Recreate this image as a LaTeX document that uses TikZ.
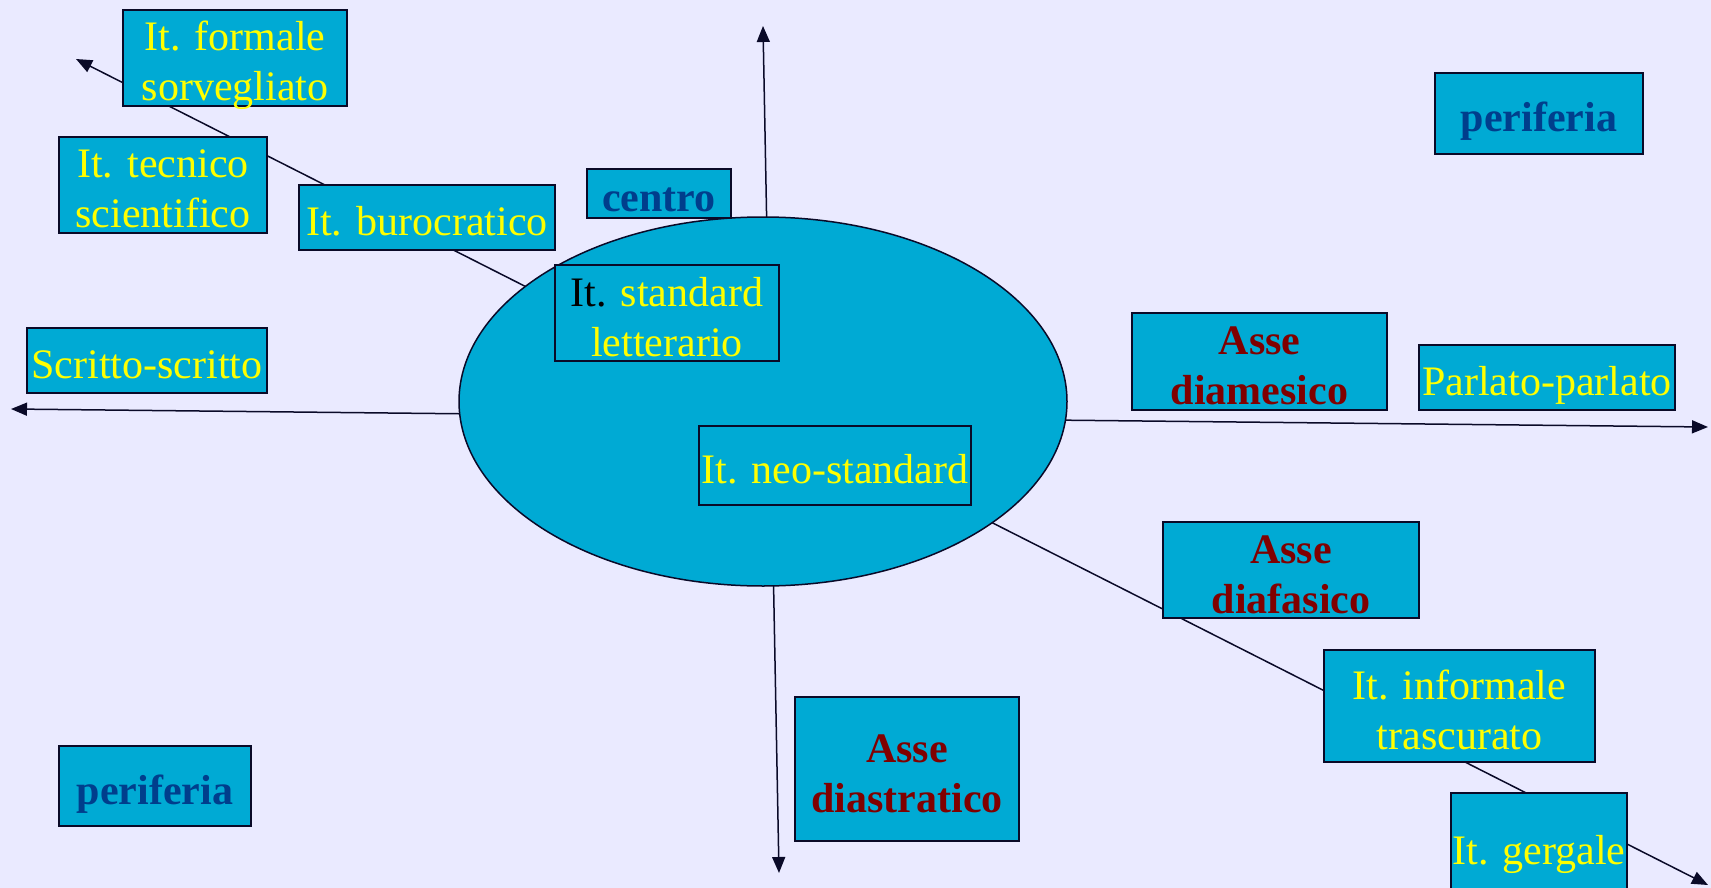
\documentclass[tikz,border=0pt]{standalone}
\usepackage{fontspec}
\setmainfont{Liberation Serif}
\usetikzlibrary{shapes.geometric,arrows.meta,backgrounds}
\definecolor{pagelilla}{RGB}{234,234,255}
\definecolor{boxcyan}{RGB}{0,170,212}
\definecolor{boxline}{RGB}{10,10,40}
\definecolor{giallo}{RGB}{255,255,0}
\definecolor{bluscuro}{RGB}{0,62,140}
\definecolor{rossoscuro}{RGB}{128,0,0}
\newcommand{\bigtxt}{\fontsize{42}{50}\selectfont}
\newcommand{\boxtext}[1]{\raisebox{-8pt}[\dimexpr\height-10pt\relax][\dimexpr\depth-10pt\relax]{\begin{tabular}{@{}c@{}}#1\end{tabular}}}
\tikzstyle{block} = [draw=boxline, fill=boxcyan, rectangle, line width=1.5pt, inner sep=0pt, font=\bigtxt, text=giallo]
\tikzstyle{axis} = [draw=boxline, line width=1.5pt, <->, >={Triangle[length=16pt,width=13pt]}]

\begin{document}
\begin{tikzpicture}[x=1pt, y=-1pt]
	\useasboundingbox (0,0) rectangle (1711,888);
	% punte degli assi
	\coordinate (NW_TIP) at (76,59);
	\coordinate (SE_TIP) at (1708,885);
	\coordinate (N_TIP) at (763,26);
	\coordinate (S_TIP) at (779,873);
	\coordinate (W_TIP) at (11,409);
	\coordinate (E_TIP) at (1708,427);

	\node (NUCLEO) [ellipse, draw=boxline, fill=boxcyan, line width=1.5pt, minimum width=608pt, minimum height=369pt] at (763,401.5) {};

	\node (IT_FORMALE) [block, minimum width=224pt, minimum height=96pt] at (235,58) {\boxtext{It. formale\\sorvegliato}};
	\node (IT_TECNICO) [block, minimum width=208pt, minimum height=96pt] at (163,185) {\boxtext{It. tecnico\\scientifico}};
	\node (IT_BUROCRATICO) [block, minimum width=256pt, minimum height=65pt] at (427,217.5) {\boxtext{It. burocratico}};
	\node (CENTRO) [block, minimum width=144pt, minimum height=49pt, text=bluscuro, font=\bigtxt\bfseries] at (659,193.5) {\boxtext{centro}};
	\node (PERIFERIA_NE) [block, minimum width=208pt, minimum height=81pt, text=bluscuro, font=\bigtxt\bfseries] at (1539,113.5) {\boxtext{periferia}};
	\node (SCRITTO) [block, minimum width=240pt, minimum height=65pt] at (147,360.5) {\boxtext{Scritto-scritto}};
	\node (IT_STANDARD) [block, minimum width=224pt, minimum height=96pt] at (667,313) {\boxtext{\textcolor{black}{It.} standard\\letterario}};
	\node (ASSE_DIAMESICO) [block, minimum width=255pt, minimum height=97pt, text=rossoscuro, font=\bigtxt\bfseries] at (1259.5,361.5) {\boxtext{Asse\\diamesico}};
	\node (PARLATO) [block, minimum width=256pt, minimum height=65pt] at (1547,377.5) {\boxtext{Parlato-parlato}};
	\node (IT_NEO) [block, minimum width=272pt, minimum height=79pt] at (835,465.5) {\boxtext{It. neo-standard}};
	\node (ASSE_DIAFASICO) [block, minimum width=256pt, minimum height=96pt, text=rossoscuro, font=\bigtxt\bfseries] at (1291,570) {\boxtext{Asse\\diafasico}};
	\node (IT_INFORMALE) [block, minimum width=271pt, minimum height=112pt] at (1459.5,706) {\boxtext{It. informale\\trascurato}};
	\node (IT_GERGALE) [block, minimum width=176pt, minimum height=106pt] at (1539,846) {\boxtext{It. gergale}};
	\node (ASSE_DIASTRATICO) [block, minimum width=224pt, minimum height=144pt, text=rossoscuro, font=\bigtxt\bfseries] at (907,769) {\boxtext{Asse\\diastratico}};
	\node (PERIFERIA_SW) [block, minimum width=192pt, minimum height=80pt, text=bluscuro, font=\bigtxt\bfseries] at (155,786) {\boxtext{periferia}};

	\begin{scope}[on background layer]
		\fill[pagelilla] (0,0) rectangle (1711,888);
		\draw[axis] (W_TIP) -- (E_TIP);
		\draw[axis] (N_TIP) -- (S_TIP);
		\draw[axis] (NW_TIP) -- (SE_TIP);
	\end{scope}
\end{tikzpicture}
\end{document}
